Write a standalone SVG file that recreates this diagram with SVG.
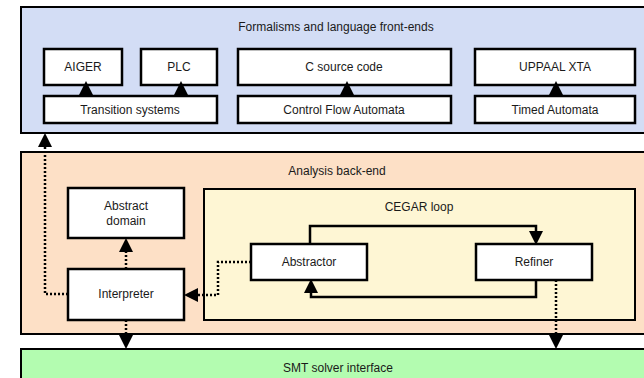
<svg xmlns="http://www.w3.org/2000/svg" width="644" height="378" viewBox="0 0 644 378">
<style>
.frame{stroke:#000;stroke-width:2}
.box{fill:#fff;stroke:#000;stroke-width:2.5}
text{font-family:"Liberation Sans",Arial,sans-serif;font-size:12px;fill:#1a1a1a;text-anchor:middle}
.solid{fill:none;stroke:#000;stroke-width:2.5}
.dot{fill:none;stroke:#000;stroke-width:2.5;stroke-dasharray:2 2}
</style>
<defs>
<marker id="ah" markerUnits="userSpaceOnUse" markerWidth="14" markerHeight="14" refX="0" refY="7" orient="auto" viewBox="0 0 14 14">
<path d="M0,0 L14,7 L0,14 z" fill="#000"/>
</marker>
</defs>
<g id="front-ends">
<rect class="frame" x="21" y="7" width="640" height="126" fill="#d3ddf5"/>
<text x="336" y="31">Formalisms and language front-ends</text>
</g>
<g id="backend">
<rect class="frame" x="21" y="152" width="640" height="182" fill="#fde0c6"/>
<text x="337" y="175">Analysis back-end</text>
</g>
<g id="smt">
<rect class="frame" x="21" y="349" width="640" height="40" fill="#b3fcb0"/>
<text x="338" y="372">SMT solver interface</text>
</g>
<g id="cegar">
<rect class="frame" x="204" y="189" width="431" height="131" fill="#fef6d4"/>
<text x="419" y="211">CEGAR loop</text>
</g>
<g id="aiger"><rect class="box" x="44" y="49" width="78" height="36"/><text x="83" y="71">AIGER</text></g>
<g id="plc"><rect class="box" x="141" y="49" width="76" height="36"/><text x="179" y="71">PLC</text></g>
<g id="csource"><rect class="box" x="238" y="49" width="213" height="36"/><text x="344" y="71">C source code</text></g>
<g id="uppaal"><rect class="box" x="475" y="49" width="160" height="36"/><text x="555" y="71">UPPAAL XTA</text></g>
<g id="ts"><rect class="box" x="44" y="96" width="173" height="27"/><text x="130" y="114">Transition systems</text></g>
<g id="cfa"><rect class="box" x="238" y="96" width="213" height="27"/><text x="344" y="114">Control Flow Automata</text></g>
<g id="ta"><rect class="box" x="475" y="96" width="160" height="27"/><text x="555" y="114">Timed Automata</text></g>
<g id="absdomain"><rect class="box" x="68" y="188" width="116" height="50"/><text x="126" y="210">Abstract</text><text x="126" y="225">domain</text></g>
<g id="interpreter"><rect class="box" x="68" y="269" width="116" height="51"/><text x="126" y="298">Interpreter</text></g>
<g id="abstractor"><rect class="box" x="251" y="244" width="116" height="36"/><text x="309" y="266">Abstractor</text></g>
<g id="refiner"><rect class="box" x="476" y="244" width="116" height="36"/><text x="534" y="266">Refiner</text></g>
<g id="connectors">
<line class="solid" x1="86" y1="96" x2="86" y2="95" marker-end="url(#ah)"/>
<line class="solid" x1="181" y1="96" x2="181" y2="95" marker-end="url(#ah)"/>
<line class="solid" x1="347" y1="96" x2="347" y2="95" marker-end="url(#ah)"/>
<line class="solid" x1="556" y1="96" x2="556" y2="95" marker-end="url(#ah)"/>
<path class="solid" d="M310,244 V226 H536 V231" marker-end="url(#ah)"/>
<path class="solid" d="M536,280 V297 H311 V293" marker-end="url(#ah)"/>
<path class="dot" d="M251,262 H218 V295 H198" marker-end="url(#ah)"/>
<path class="dot" d="M68,294 H45 V147" marker-end="url(#ah)"/>
<path class="dot" d="M126,269 V252" marker-end="url(#ah)"/>
<path class="dot" d="M126,320 V335" marker-end="url(#ah)"/>
<path class="dot" d="M556,280 V335" marker-end="url(#ah)"/>
</g>
</svg>
